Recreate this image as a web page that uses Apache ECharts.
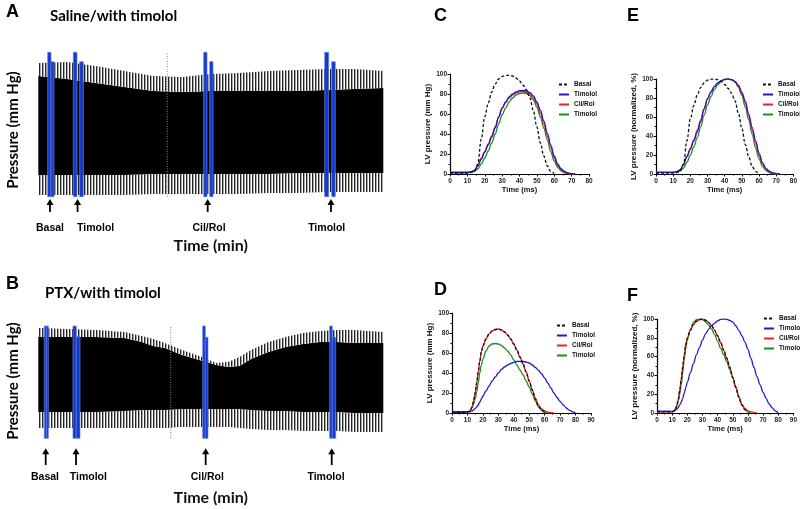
<!DOCTYPE html>
<html><head><meta charset="utf-8">
<script src="https://cdn.jsdelivr.net/npm/echarts@6/dist/echarts.min.js"></script>
<style>html,body{margin:0;padding:0;background:#fff}#c{width:800px;height:509px}</style>
</head><body><div id="c"></div>
<script>
// ---------- Panel A trace (Saline/with timolol): envelopes, time in min ----------
const traceA_t          = [0,5,10,15,20,25,30,35,40,45,50,55,60];
const traceA_spikeTop   = [137,138,134,129,124,123,126,127,129,130,131,131,129];
const traceA_top        = [124,121,117,113,109,108,109,109,109,109,110,111,112];
const traceA_bottom     = [25,25,25,25,26,26,26,26,26,27,27,27,27];
const traceA_spikeBot   = [5,5,5,5,6,6,6,6,7,7,8,8,8];
const barsA_start = [1.63,2.21,6.09,7.20,28.77,29.81,49.81,51.03];
const barsA_end   = [2.21,2.73,6.73,7.83,29.34,30.38,50.50,51.65];
const barsA_top   = [147.7,138.3,147.7,138.3,147.7,138.3,147.7,138.3];
const barsA_bottom = 3.3;
const dotA = [22.43, 3, 148];
const arrowsA_t = [2.03,6.83,29.46,50.9];
const arrowsA_v = [1,-12];
const labelsA_t = [2.03,9.98,29.69,50.16];
const labelsA_v = -28;
const eventNames = ['Basal','Timolol','Cil/Rol','Timolol'];

// ---------- Panel B trace (PTX/with timolol) ----------
const traceB_t          = [0,5,10,15,18,20,22,25,28,31,33,35,37,40,43,46,49,52,55,60];
const traceB_spikeTop   = [122,121,120,118,114,111,107,100,94,87,88,93,100,108,113,117,119,120,120,118];
const traceB_top        = [113,113,113,112,108,104,102,95,90,85,83,84,91,98,103,106,108,108,107,107];
const traceB_bottom     = [38,38,38,39,40,40,40,41,41,41,41,41,40,39,39,38,38,38,37,37];
const traceB_spikeBot   = [22,22,22,22,22,22,22,23,23,23,23,22,21,20,20,19,19,19,18,18];
const barsB_start = [1.04,1.40,6.03,6.60,28.59,29.04,50.68,51.13];
const barsB_end   = [1.40,1.74,6.60,7.25,29.04,29.51,51.13,51.72];
const barsB_top   = [124,124,124,113.3,124,112.7,124,112.7];
const barsB_bottom = 11.7;
const dotB = [23.03, 12, 124];
const arrowsB_t = [1.29,6.56,29.11,51.03];
const arrowsB_v = [1.7,-15];
const labelsB_t = [1.17,8.7,29.39,50.03];
const labelsB_v = -26.7;

// ---------- Panels C / E (time in ms) ----------
const tCE = [0,5,10,12,14,16,18,20,22,24,26,28,30,32,34,36,38,40,42,44,46,48,50,52,54,56,58,60,62,64,66,68,70,72];
const C_basal  = [1,1,1,1.5,3,10,35,57,71,82,90,95,97.5,98.5,98.7,98,96,93,89,84,76,63,47,31,18,8,2.5,0.5,null,null,null,null,null,null];
const C_timo1  = [1.5,1.5,1.5,2,3.5,8,15,22,29,37,46,57,66,72,77,80,82,83.3,83.5,83,81.5,78,72,64,53,41,29,18,10,5,2.5,1,0.3,0];
const C_cilrol = [1.5,1.5,1.5,2,3.5,8.5,15.5,22.5,30,38,47,57,65.5,71.5,76,79,81,82.2,82.5,82,80,76,70,61,50,38,26,16,8.5,4,1.8,0.5,0,0];
const C_timo2  = [1.5,1.5,1.5,1.7,2.5,5,10,16,23,31,40,50,59,66,72,76,79,80.5,81,80.5,78.5,74,67,57,46,34,22,13,6.5,3,1,0.3,0,0];
const E_basal  = [1,1,1,1.5,3,10,35,58,72,83,91,96,98.8,99.8,100,99.3,97.3,94.2,90,85,77,64,48,31,18,8,2.5,0.5,null,null,null,null,null,null];
const E_timo1  = [1.8,1.8,1.8,2.4,4.2,9.6,18,26,35,44,55,68,79,86,92,96,98,99.8,100,99.4,97.6,93.4,86,77,63,49,35,22,12,6,3,1.2,0.4,0];
const E_cilrol = [1.8,1.8,1.8,2.4,4.2,10.3,18.8,27,36,46,57,69,79.4,86.7,92,95.8,98.2,99.6,100,99.4,97,92,85,74,60.6,46,31.5,19.4,10.3,4.8,2.2,0.6,0,0];
const E_timo2  = [1.8,1.8,1.8,2.1,3,6.2,12.3,19.8,28.4,38.3,49.4,61.7,72.8,81.5,89,93.8,97.5,99.4,100,99.4,97,91.4,82.7,70.4,56.8,42,27,16,8,3.7,1.2,0.4,0,0];

// ---------- Panels D / F ----------
const tDF = [0,5,10,11,12,13,14,15,16,17,18,19,20,22,24,26,28,30,32,34,36,38,40,42,44,46,48,50,52,54,56,58,60,62,64,66,68,70,72,74,76,78,80];
const D_basal  = [1,1,1,1.5,3,6,12,20,30,41,52,61,67,74,79,82,83.5,84,83,81,78,74,69,63,56,49,41,32,23,14,7,3,1,null,null,null,null,null,null,null,null,null,null];
const D_timo1  = [1,1,1,1.2,1.5,2,3,4.5,6,8,11,14,17,22,27,32,36,40,43.5,46,48,49.5,50.7,51.5,51.7,51.5,51,50,48,45.5,42.5,39,35,30,25,20,15.5,11.5,8,5,2.8,1.2,0];
const D_cilrol = [1,1,1,1.5,3,6,12,20,30,41,52,61,67,74,79,82,83.5,84,83,81,78,74,69,63,56,49,41,32,23,14.5,8,4,2,1,0.4,0,null,null,null,null,null,null,null];
const D_timo2  = [1,1,1,1.5,3,5,9,14,21,30,40,48,54,62,67,69,69.5,69,67.5,65,62,58,53,48,43,38,32,26,19,12,6,2.5,0.7,0,null,null,null,null,null,null,null,null,null];
const F_basal  = [1.2,1.2,1.2,1.8,3.6,7,14,24,36,49,62,73,80,88,94,97.6,99.4,100,98.8,96.4,92.9,88,82,75,66.7,58.3,48.8,38,27.4,16.7,8.3,3.6,1.2,null,null,null,null,null,null,null,null,null,null];
const F_timo1  = [2.2,2,1.8,2.3,2.9,3.9,5.8,8.7,11.6,15.5,21.3,27,32.9,42.6,52.2,61.9,69.6,77.4,84.1,89,92.8,95.7,98,99.6,100,99.6,98.6,96.7,92.8,88,82.2,75.4,67.7,58,48.4,38.7,30,22.2,15.5,9.7,5.4,2.3,0];
const F_cilrol = [1.2,1.2,1.2,1.8,3.6,7,14,24,36,49,62,73,80,88,94,97.6,99.4,100,98.8,96.4,92.9,88,82,75,66.7,58.3,48.8,38,27.4,17.3,9.5,4.8,2.4,1.2,0.5,0,null,null,null,null,null,null,null];
const F_timo2  = [1.4,1.4,1.4,2.2,4.3,7.2,13,20,30,43,57.6,69,77.7,89,96.4,99.3,100,99.3,97.1,93.5,89.2,83.5,76.3,69,61.9,54.7,46,37.4,27.3,17.3,8.6,3.6,1,0,null,null,null,null,null,null,null,null,null];

const legendNames = ['Basal','Timolol','Cil/Rol','Timolol '];

// ---------- styles ----------
const COL = {basal:'#111111', timo1:'#1c1cc4', cilrol:'#ee2026', timo2:'#1f8c1f'};
const SANS = 'Liberation Sans, Arial, sans-serif';
const TITLE = 'Lato, "Open Sans", sans-serif';

const stripe = (function(){
  const c = document.createElement('canvas'); c.width = 3; c.height = 2;
  const g = c.getContext('2d');
  g.fillStyle = '#ffffff'; g.fillRect(0,0,3,2);
  g.fillStyle = '#262626'; g.fillRect(0,0,1,2);
  g.fillStyle = '#a8a8a8'; g.fillRect(1,0,1,2);
  return c;
})();

const grids = [
  {left:38.3, top:40,  width:345, height:196},   // A
  {left:38.3, top:290, width:345, height:196},   // B
  {left:450,  top:74,  width:139, height:100},   // C
  {left:656,  top:79,  width:138, height:95},    // E
  {left:452,  top:313, width:139, height:100},   // D
  {left:657,  top:319, width:137, height:94}     // F
];

const xAxes = [], yAxes = [], series = [];

function traceAxes(gi){
  xAxes.push({gridIndex:gi, type:'value', min:0, max:60,
    axisLine:{show:false}, axisTick:{show:false}, axisLabel:{show:false}, splitLine:{show:false},
    name:'Time (min)', nameLocation:'middle', nameGap: gi===0 ? 2 : 4,
    nameTextStyle:{fontFamily:TITLE, fontWeight:'bold', fontSize:16, color:'#111'}});
  yAxes.push({gridIndex:gi, type:'value', min:-36, max:160, show:false});
}

function band(gi, T, upper, lower, fill){
  series.push({type:'custom', xAxisIndex:gi, yAxisIndex:gi, silent:true, animation:false, z:2, clip:false,
    data:[[T[0], upper[0]]],
    renderItem:function(p, api){
      const pts = [];
      for (let i = 0; i < T.length; i++) pts.push(api.coord([T[i], upper[i]]));
      for (let i = T.length - 1; i >= 0; i--) pts.push(api.coord([T[i], lower[i]]));
      return {type:'polygon', shape:{points:pts}, style:{fill:fill}};
    }});
}

function traceSeries(gi, T, sTop, top, bot, sBot, bS, bE, bT, bB, dot, aT, aV, lT, lV){
  const pat = {image:stripe, repeat:'repeat'};
  band(gi, T, bot, sBot, pat);
  band(gi, T, top, bot, '#000');
  band(gi, T, sTop, top, pat);
  series.push({type:'custom', xAxisIndex:gi, yAxisIndex:gi, silent:true, animation:false, z:3, clip:false,
    data:[dot],
    renderItem:function(p, api){
      const a = api.coord([api.value(0), api.value(1)]), b = api.coord([api.value(0), api.value(2)]);
      return {type:'line', shape:{x1:a[0],y1:a[1],x2:b[0],y2:b[1]}, style:{stroke:'#8a8a8a', lineWidth:1, lineDash:[1,1.5]}};
    }});
  series.push({type:'custom', xAxisIndex:gi, yAxisIndex:gi, silent:true, animation:false, z:4, clip:false,
    data:bS.map((s,i)=>[s, bE[i], bT[i], bB]),
    renderItem:function(p, api){
      const a = api.coord([api.value(0), api.value(2)]), b = api.coord([api.value(1), api.value(3)]);
      return {type:'rect', shape:{x:a[0], y:a[1], width:b[0]-a[0], height:b[1]-a[1]},
        style:{fill:'#1538c9', stroke:'#5f80ea', lineWidth:0.7}};
    }});
  series.push({type:'custom', xAxisIndex:gi, yAxisIndex:gi, silent:true, animation:false, z:4, clip:false,
    data:aT.map(t=>[t, aV[0], aV[1]]),
    renderItem:function(p, api){
      const tip = api.coord([api.value(0), api.value(1)]), tail = api.coord([api.value(0), api.value(2)]);
      return {type:'group', children:[
        {type:'line', shape:{x1:tail[0], y1:tail[1], x2:tip[0], y2:tip[1]+4}, style:{stroke:'#000', lineWidth:1.8}},
        {type:'polygon', shape:{points:[[tip[0],tip[1]],[tip[0]-3.5,tip[1]+6],[tip[0]+3.5,tip[1]+6]]}, style:{fill:'#000'}}
      ]};
    }});
  series.push({type:'custom', xAxisIndex:gi, yAxisIndex:gi, silent:true, animation:false, z:4, clip:false,
    data:lT.map(t=>[t, lV]),
    renderItem:function(p, api){
      const c = api.coord([api.value(0), api.value(1)]);
      return {type:'text', x:c[0], y:c[1], style:{text:eventNames[p.dataIndex], align:'center', verticalAlign:'middle',
        font:'bold 10.5px ' + SANS, fill:'#000'}};
    }});
}

traceAxes(0); traceAxes(1);
traceSeries(0, traceA_t, traceA_spikeTop, traceA_top, traceA_bottom, traceA_spikeBot,
  barsA_start, barsA_end, barsA_top, barsA_bottom, dotA, arrowsA_t, arrowsA_v, labelsA_t, labelsA_v);
traceSeries(1, traceB_t, traceB_spikeTop, traceB_top, traceB_bottom, traceB_spikeBot,
  barsB_start, barsB_end, barsB_top, barsB_bottom, dotB, arrowsB_t, arrowsB_v, labelsB_t, labelsB_v);

function curveAxes(gi, xmax, yName, yGap){
  const lab = {fontFamily:SANS, fontWeight:'bold', fontSize:6.5, color:'#222'};
  xAxes.push({gridIndex:gi, type:'value', min:0, max:xmax, interval:10,
    axisLine:{show:true, onZero:false, lineStyle:{color:'#000', width:1.2}},
    axisTick:{show:true, length:2.5, lineStyle:{color:'#000'}},
    minorTick:{show:true, splitNumber:2, length:1.5, lineStyle:{color:'#000'}},
    axisLabel:Object.assign({margin:4}, lab), splitLine:{show:false},
    name:'Time (ms)', nameLocation:'middle', nameGap:12,
    nameTextStyle:{fontFamily:SANS, fontWeight:'bold', fontSize:7.5, color:'#111'}});
  yAxes.push({gridIndex:gi, type:'value', min:0, max:100, interval:20,
    axisLine:{show:true, onZero:false, lineStyle:{color:'#000', width:1.2}},
    axisTick:{show:true, length:2.5, lineStyle:{color:'#000'}},
    minorTick:{show:true, splitNumber:2, length:1.5, lineStyle:{color:'#000'}},
    axisLabel:Object.assign({margin:3}, lab), splitLine:{show:false},
    name:yName, nameLocation:'middle', nameGap:yGap,
    nameTextStyle:{fontFamily:SANS, fontWeight:'bold', fontSize:8, color:'#111'}});
}

function curve(gi, name, T, V, color, dashed, z){
  series.push({type:'line', name:name, xAxisIndex:gi, yAxisIndex:gi, data:T.map((t,i)=>[t, V[i]]),
    symbol:'none', smooth:0.35, smoothMonotone:'x', connectNulls:false, silent:true, animation:false, z:z,
    lineStyle:{color:color, width:1.3, type: dashed ? [3,2] : 'solid'}, itemStyle:{color:color}});
}

curveAxes(2, 80, 'LV pressure (mm Hg)', 14);
curveAxes(3, 80, 'LV pressure (normalized, %)', 15);
curveAxes(4, 90, 'LV pressure (mm Hg)', 14);
curveAxes(5, 90, 'LV pressure (normalized, %)', 15);

function T_(gi){ return gi <= 3 ? tCE : tDF; }
function panel(gi, b, t1, cr, t2){
  curve(gi, legendNames[3], T_(gi), t2, COL.timo2, false, 3);
  curve(gi, legendNames[2], T_(gi), cr, COL.cilrol, false, 4);
  curve(gi, legendNames[1], T_(gi), t1, COL.timo1, false, 5);
  curve(gi, legendNames[0], T_(gi), b, COL.basal, true, 6);
}
panel(2, C_basal, C_timo1, C_cilrol, C_timo2);
panel(3, E_basal, E_timo1, E_cilrol, E_timo2);
panel(4, D_basal, D_timo1, D_cilrol, D_timo2);
panel(5, F_basal, F_timo1, F_cilrol, F_timo2);

function legendAt(left, top){
  return {data:legendNames, left:left, top:top, orient:'vertical', itemWidth:10, itemHeight:7, itemGap:3,
    selectedMode:false, formatter:n=>n.trim(), itemStyle:{opacity:0},
    textStyle:{fontFamily:SANS, fontWeight:'bold', fontSize:6.5, color:'#111'}};
}

function txt(x, y, s, font){
  return {type:'text', x:x, y:y, silent:true, style:{text:s, font:font, fill:'#000', align:'left', verticalAlign:'middle'}};
}

const option = {
  animation:false,
  backgroundColor:'#fff',
  grid:grids,
  xAxis:xAxes,
  yAxis:yAxes,
  legend:[legendAt(553,76), legendAt(757,76), legendAt(551,317), legendAt(758,310)],
  series:series,
  graphic:[
    txt(6, 12, 'A', 'bold 18px ' + SANS),
    txt(50, 16, 'Saline/with timolol', 'bold 15px ' + TITLE),
    txt(6, 284, 'B', 'bold 18px ' + SANS),
    txt(45, 293, 'PTX/with timolol', 'bold 15px ' + TITLE),
    {type:'text', x:13, y:130, rotation:Math.PI/2, silent:true,
     style:{text:'Pressure (mm Hg)', font:'bold 15px ' + TITLE, fill:'#000', align:'center', verticalAlign:'middle'}},
    {type:'text', x:13, y:381, rotation:Math.PI/2, silent:true,
     style:{text:'Pressure (mm Hg)', font:'bold 15px ' + TITLE, fill:'#000', align:'center', verticalAlign:'middle'}},
    txt(434, 16, 'C', 'bold 18px ' + SANS),
    txt(627, 16, 'E', 'bold 18px ' + SANS),
    txt(434, 290, 'D', 'bold 18px ' + SANS),
    txt(627, 296, 'F', 'bold 18px ' + SANS)
  ]
};

const chart = echarts.init(document.getElementById('c'), null, {renderer:'canvas'});
chart.setOption(option);
</script>
</body></html>
